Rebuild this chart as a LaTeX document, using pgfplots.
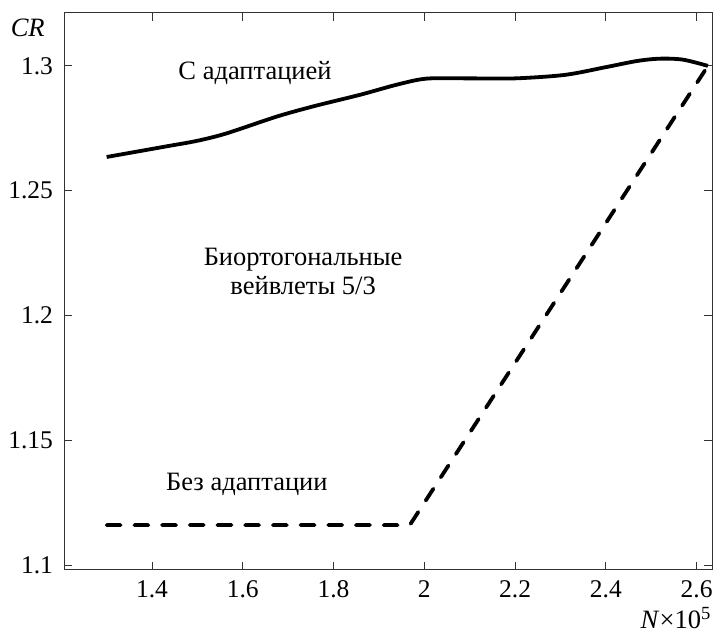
\documentclass[border=0pt]{standalone}
\usepackage{fontspec}
\setmainfont{Liberation Serif}
\usepackage{pgfplots}
\pgfplotsset{compat=1.18}
\begin{document}
\fontsize{26.5}{31}\selectfont
\begin{tikzpicture}[x=1pt,y=1pt]
\useasboundingbox (0,0) rectangle (720,636);
\begin{axis}[
  at={(64pt,66pt)}, anchor=south west,
  scale only axis, width=648pt, height=557pt,
  xmin=1.206, xmax=2.634, ymin=1.098, ymax=1.3212,
  xtick={1.4,1.6,1.8,2,2.2,2.4,2.6},
  ytick={1.1,1.15,1.2,1.25,1.3},
  yticklabels={1.1,1.15,1.2,1.25,1.3},
  xticklabels={1.4,1.6,1.8,2,2.2,2.4,2.6},
  tick align=inside, major tick length=8pt,
  tick style={black!80, line width=0.8pt},
  axis line style={black!80, line width=1pt},
  ticklabel style={font=\fontsize{25.5}{30}\selectfont},
  /pgf/number format/assume math mode=true,
  xticklabel style={yshift=-2pt},
  yticklabel style={xshift=-2pt},
  clip=false,
]
\addplot[black, line width=3.8pt, smooth, tension=0.5] coordinates {
(1.30,1.2635) (1.43,1.2677) (1.50,1.2700) (1.565,1.2730) (1.675,1.2797) (1.76,1.2840) (1.858,1.2884) (1.94,1.2925) (2.005,1.2949) (2.10,1.2950) (2.20,1.2950) (2.31,1.2964) (2.40,1.2995) (2.47,1.3020) (2.52,1.3029) (2.57,1.3025) (2.625,1.3000)
};
\addplot[black, line width=3.8pt, line cap=round, dash pattern=on 14pt off 13.7pt] coordinates {
(1.30,1.116) (1.968,1.116) (2.625,1.300)
};
\node at (axis cs:1.627,1.2972) {С адаптацией};
\node[align=center, inner sep=0pt] at (axis cs:1.733,1.2178) {Биортогональные\\[-2pt]вейвлеты 5/3};
\node at (axis cs:1.609,1.1325) {Без адаптации};
\node at (axis description cs:-0.056,0.973) {\itshape CR};
\node at (axis description cs:0.944,-0.087) {\textit{N}×10$^{\mathrm{5}}$};
\end{axis}
\end{tikzpicture}
\end{document}
